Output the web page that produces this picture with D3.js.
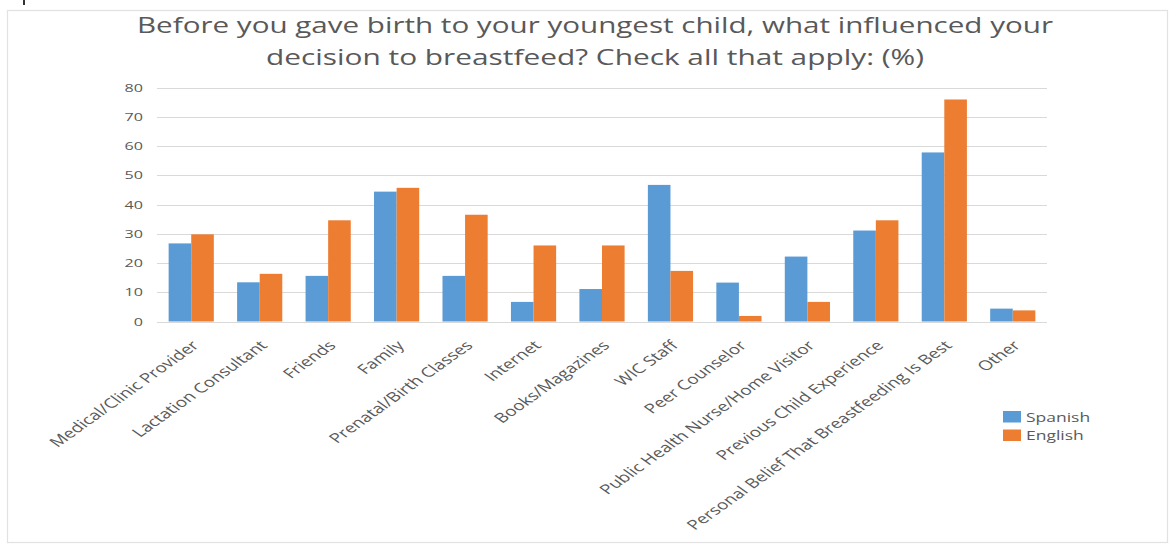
<!DOCTYPE html>
<html>
<head>
<meta charset="utf-8">
<script src="https://cdn.jsdelivr.net/npm/d3@7"></script>
<style>
  html, body { margin: 0; padding: 0; background: #fff; }
  svg { display: block; }
</style>
</head>
<body>
<svg id="chart" width="1174" height="549"></svg>
<script>
const categories = [
  "Medical/Clinic Provider", "Lactation Consultant", "Friends", "Family",
  "Prenatal/Birth Classes", "Internet", "Books/Magazines", "WIC Staff",
  "Peer Counselor", "Public Health Nurse/Home Visitor", "Previous Child Experience",
  "Personal Belief That Breastfeeding Is Best", "Other"
];
const seriesNames = ["Spanish", "English"];
const spanish = [26.7, 13.4, 15.6, 44.4, 15.6, 6.7, 11.1, 46.7, 13.3, 22.2, 31.1, 57.8, 4.4];
const english = [29.8, 16.3, 34.6, 45.7, 36.5, 26.0, 26.0, 17.3, 1.9, 6.7, 34.6, 75.9, 3.8];
const yTicks = [0, 10, 20, 30, 40, 50, 60, 70, 80];
const titleLines = [
  "Before you gave birth to your youngest child, what influenced your",
  "decision to breastfeed? Check all that apply: (%)"
];
const colors = ["#5B9BD5", "#ED7D31"];

const SX = 1.4; // horizontal stretch of text seen in the reference
const FONT = "'Open Sans', 'DejaVu Sans', sans-serif";
const TXT = "#595959";

const svg = d3.select("#chart");

// outer frame
svg.append("rect").attr("x", 7.5).attr("y", 10.5).attr("width", 1160).attr("height", 532)
  .attr("fill", "#fff").attr("stroke", "#e2e2e2").attr("stroke-width", 1.2);
svg.append("line").attr("x1", 24).attr("x2", 24).attr("y1", 0).attr("y2", 5)
  .attr("stroke", "#333").attr("stroke-width", 2);

// title
const titleWidths = [916, 658];
const titleBase = [33, 65];
titleLines.forEach((t, i) => {
  svg.append("text")
    .attr("x", 595).attr("y", titleBase[i])
    .attr("text-anchor", "middle")
    .attr("font-family", FONT).attr("font-size", 22)
    .attr("fill", TXT)
    .attr("textLength", titleWidths[i]).attr("lengthAdjust", "spacingAndGlyphs")
    .text(t);
});

// scales
const x = d3.scaleBand().domain(categories).range([157, 1047]).paddingInner(0.34).paddingOuter(0.17);
const xs = d3.scaleBand().domain(seriesNames).range([0, x.bandwidth()]);
const y = d3.scaleLinear().domain([0, 80]).range([321.5, 87.5]);

// gridlines
svg.append("g").selectAll("line").data(yTicks).join("line")
  .attr("x1", 157).attr("x2", 1047)
  .attr("y1", d => Math.round(y(d)) + 0.5).attr("y2", d => Math.round(y(d)) + 0.5)
  .attr("stroke", "#d9d9d9").attr("stroke-width", 1.2);

// y tick labels
svg.append("g").selectAll("text").data(yTicks).join("text")
  .attr("transform", d => `translate(143,${y(d)}) scale(${SX},1)`)
  .attr("text-anchor", "end").attr("dy", "0.36em")
  .attr("font-family", FONT).attr("font-size", 11.5).attr("fill", TXT)
  .text(d => d);

// bars
const rows = categories.map((c, i) => ({ c, vals: [spanish[i], english[i]] }));
const groups = svg.append("g").selectAll("g").data(rows).join("g")
  .attr("transform", d => `translate(${x(d.c)},0)`);
groups.selectAll("rect").data(d => d.vals.map((v, k) => ({ v, k })))
  .join("rect")
  .attr("x", d => xs(seriesNames[d.k]))
  .attr("width", xs.bandwidth())
  .attr("y", d => y(d.v))
  .attr("height", d => y(0) - y(d.v))
  .attr("fill", d => colors[d.k]);

// x labels
svg.append("g").selectAll("text").data(categories).join("text")
  .attr("transform", d => `translate(${x(d) + x.bandwidth() / 2 + 4},343) scale(${SX},1) rotate(-45)`)
  .attr("text-anchor", "end").attr("dy", "0.35em")
  .attr("font-family", FONT).attr("font-size", 13.5).attr("fill", TXT)
  .text(d => d);

// legend
const legend = svg.append("g").selectAll("g").data(seriesNames).join("g")
  .attr("transform", (d, i) => `translate(1003,${411 + i * 18.5})`);
legend.append("rect").attr("width", 18).attr("height", 11.5).attr("fill", (d, i) => colors[i]);
legend.append("text")
  .attr("transform", `translate(23,10.5) scale(${SX},1)`)
  .attr("font-family", FONT).attr("font-size", 12.5).attr("fill", TXT)
  .text(d => d);
</script>
</body>
</html>
